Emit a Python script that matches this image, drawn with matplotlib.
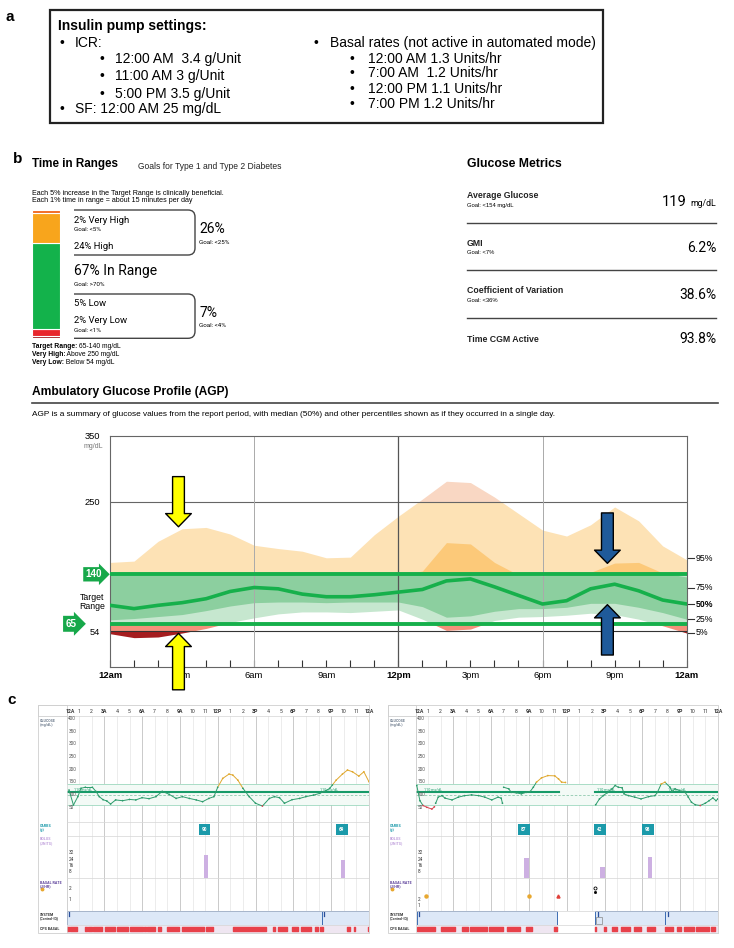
import matplotlib
matplotlib.use("Agg")
import matplotlib.pyplot as plt
import numpy as np
from matplotlib import font_manager
from matplotlib.patches import Rectangle, PathPatch
from matplotlib.path import Path
from matplotlib.collections import LineCollection

W, H = 734, 948
installed = {f.name for f in font_manager.fontManager.ttflist}
if "Liberation Sans Narrow" in installed:
    NARROW, NS = "Liberation Sans Narrow", 1.0
else:
    NARROW, NS = "Liberation Sans", 0.84
ARIAL = "Liberation Sans"
plt.rcParams["font.family"] = ["Roboto", "DejaVu Sans"]

# ---------------- panel a: pump settings
icr_lines = ["12:00 AM  3.4 g/Unit", "11:00 AM 3 g/Unit", "5:00 PM 3.5 g/Unit"]
sf_line = "SF: 12:00 AM 25 mg/dL"
basal_lines = ["12:00 AM 1.3 Units/hr", "7:00 AM  1.2 Units/hr",
               "12:00 PM 1.1 Units/hr", "7:00 PM 1.2 Units/hr"]

# ---------------- panel b: time in ranges (bottom to top)
tir_names = ["Very Low", "Low", "In Range", "High", "Very High"]
tir_pct = [2, 5, 67, 24, 2]
tir_colors = ["#9e1b20", "#e8262c", "#13b24b", "#f8a51c", "#f26a21"]

metric_names = ["Average Glucose", "GMI", "Coefficient of Variation", "Time CGM Active"]
metric_goals = ["Goal: <154 mg/dL", "Goal: <7%", "Goal: <36%", ""]
metric_values = ["119", "6.2%", "38.6%", "93.8%"]

# ---------------- AGP percentiles (hourly, mg/dL)
agp_hours = np.arange(25)
p95 = [158, 160, 190, 209, 211, 201, 184, 179, 175, 165, 166, 200, 228,
       254, 281, 279, 257, 232, 207, 198, 215, 242, 221, 183, 162]
p75 = [139, 139, 139, 139, 140, 143, 143, 140, 139, 139, 139, 139, 139,
       145, 188, 186, 158, 139, 138, 139, 143, 157, 158, 142, 136]
p50 = [93, 88, 93, 97, 103, 114, 120, 118, 110, 106, 106, 109, 113,
       117, 130, 133, 121, 108, 95, 100, 118, 125, 115, 101, 95]
p25 = [71, 73, 76, 79, 85, 92, 97, 98, 98, 97, 98, 98, 98,
       91, 75, 77, 84, 88, 88, 90, 96, 96, 90, 82, 72]
p5 = [50, 44, 45, 51, 58, 67, 74, 80, 83, 83, 82, 84, 86,
      72, 55, 57, 70, 75, 76, 78, 81, 79, 72, 62, 51]
pct_labels = ["95%", "75%", "50%", "25%", "5%"]
pct_label_vals = [164, 120, 94.5, 72, 51.5]
agp_xlabels = ["12am", "3am", "6am", "9am", "12pm", "3pm", "6pm", "9pm", "12am"]

# ---------------- panel c: two daily CGM views
hour_labels = ["12A", "1", "2", "3A", "4", "5", "6A", "7", "8", "9A", "10", "11", "12P",
               "1", "2", "3P", "4", "5", "6P", "7", "8", "9P", "10", "11", "12A"]

left_hours = [0.2, 0.55, 0.9, 1.15, 1.5, 2.05, 2.35, 2.6, 2.9, 3.2, 3.5, 3.9, 4.45, 5.0,
              5.5, 6.0, 6.55, 7.1, 7.6, 8.15, 8.7, 9.2, 9.75, 10.3, 10.8, 11.3, 11.7,
              12.0, 12.4, 12.9, 13.2, 13.6, 14.0, 14.5, 15.0, 15.55, 16.1, 16.5, 16.9,
              17.3, 17.9, 18.5, 19.0, 19.6, 20.1, 20.6, 20.9, 21.1, 21.4, 21.9, 22.3,
              22.7, 23.2, 23.6, 24.0]
left_gluc = [118, 59, 92, 125, 129, 129, 112, 92, 80, 75, 63, 79, 76, 81,
             79, 88, 84, 92, 113, 101, 85, 92, 85, 79, 72, 85, 92,
             129, 164, 181, 177, 157, 125, 92, 66, 55, 85, 92, 88,
             66, 80, 85, 92, 98, 105, 116, 125, 138, 157, 181, 197,
             190, 173, 190, 151]
right_hours = [0.1, 0.35, 0.6, 0.9, 1.3, 1.5, np.nan, 1.6, 1.8, 2.1, 2.35, 2.9, 3.4, 3.9,
               4.45, 5.0, 5.5, 6.05, 6.55, 6.8, 6.9, np.nan, 7.0, 7.4, 7.6, 8.0, 8.4, 8.8,
               9.1, 9.35, 9.6, 10.0, 10.5, 11.05, 11.35, 11.6, 11.9, np.nan, 14.3, 14.6,
               14.9, 15.2, 15.6, 15.85, 16.1, 16.4, 16.55, 16.9, 17.4, 17.9, 18.5, 19.0,
               19.2, 19.5, 19.8, 20.2, 20.35, 20.6, 21.1, 21.4, 21.65, 21.9, 22.2, 22.6,
               23.0, 23.3, 23.6, 23.85, 24.0]
right_gluc = [136, 76, 57, 50, 43, 52, np.nan, 66, 90, 96, 86, 79, 90, 96,
              99, 96, 90, 79, 90, 86, 66, np.nan, 129, 123, 109, 107, 103, 109,
              112, 129, 149, 166, 175, 174, 162, 149, 148, np.nan, 60, 83,
              96, 107, 123, 136, 129, 127, 103, 96, 90, 83, 92, 96,
              109, 142, 149, 129, 112, 123, 113, 109, 90, 70, 60, 57,
              66, 76, 87, 76, 83]

left_carb_h, left_carb_g = [10.94, 21.86], [90, 69]
right_carb_h, right_carb_g = [8.6, 14.64, 18.45], [87, 42, 98]
left_bolus_h, left_bolus_u = [11.07, 21.95], [30, 23]
right_bolus_h, right_bolus_u = [8.8, 14.83, 18.6], [26, 14, 27]

left_target_spans = [(0.0, 24.0)]
right_target_spans = [(0.1, 11.35), (14.25, 24.0)]
left_target_label_h = [0.6, 20.1]
right_target_label_h = [0.7, 14.4, 20.0]

left_sys_spans = [(0.0, 20.25), (20.25, 24.0)]
right_sys_spans = [(0.1, 11.2), (14.25, 19.8), (19.8, 24.0)]

left_cps_start = [0.01, 0.28, 1.47, 1.73, 2.13, 3.05, 3.98, 5.04, 6.18, 6.41, 7.24, 7.95,
                  9.14, 11.07, 13.24, 16.42, 16.76, 17.87, 18.58, 19.72, 20.12, 22.28,
                  22.81, 23.9]
left_cps_end = [0.23, 0.81, 1.66, 2.0, 2.79, 3.85, 4.9, 6.1, 6.31, 7.02, 7.47, 8.95,
                10.9, 11.6, 15.83, 16.55, 17.53, 18.4, 19.38, 19.99, 20.38, 22.5,
                22.89, 24.0]
right_cps_start = [0.09, 2.0, 3.66, 4.33, 5.86, 7.29, 8.77, 10.99, 14.25, 14.99, 15.62,
                   16.28, 17.34, 18.35, 19.8, 20.78, 21.31, 22.24, 23.48]
right_cps_end = [1.55, 3.13, 4.19, 5.65, 6.92, 8.29, 9.22, 11.2, 14.33, 15.1, 16.02,
                 17.02, 17.9, 19.0, 20.46, 21.05, 22.1, 23.27, 23.77]

right_basal_marks_h = [0.81, 8.98, 11.34]
right_basal_marks_y = [2.7, 2.7, 2.7]
right_basal_marks = ["o", "o", "^"]
right_basal_mark_colors = ["#e8a830", "#e8a830", "#e0403a"]

fig = plt.figure(figsize=(7.34, 9.48), dpi=100)
ax0 = fig.add_axes([0, 0, 1, 1])
ax0.set_xlim(0, W)
ax0.set_ylim(H, 0)
ax0.axis("off")


def px_axes(x0, y0, x1, y1):
    return fig.add_axes([x0 / W, 1 - y1 / H, (x1 - x0) / W, (y1 - y0) / H])


# ================= panel a
ax0.text(5, 17, "a", fontsize=11, fontweight="bold", family=ARIAL, va="center")
ax0.add_patch(Rectangle((50, 10), 553, 113, fill=False, ec="#222", lw=1.6))
ax0.text(58.5, 26, "Insulin pump settings:", fontsize=10, fontweight="bold",
         family=ARIAL, va="center")
ax0.text(60, 43.3, "•", fontsize=10, family=ARIAL, va="center")
ax0.text(75, 43.3, "ICR:", fontsize=10, family=ARIAL, va="center")
for y, line in zip([59.3, 76, 94], icr_lines):
    ax0.text(99, y, "•", fontsize=10, family=ARIAL, va="center")
    ax0.text(115, y, line, fontsize=10, family=ARIAL, va="center")
ax0.text(60, 109, "•", fontsize=10, family=ARIAL, va="center")
ax0.text(75, 109, sf_line, fontsize=10, family=ARIAL, va="center")
ax0.text(313.6, 43.3, "•", fontsize=10, family=ARIAL, va="center")
ax0.text(330, 43.3, "Basal rates (not active in automated mode)", fontsize=10,
         family=ARIAL, va="center")
for y, line in zip([59.3, 72.7, 88.7, 104.3], basal_lines):
    ax0.text(350, y, "•", fontsize=10, family=ARIAL, va="center")
    ax0.text(368.5, y, line, fontsize=10, family=ARIAL, va="center")

# ================= panel b
ax0.text(13, 159.3, "b", fontsize=11, fontweight="bold", family=ARIAL, va="center")
ax0.text(32, 164.3, "Time in Ranges", fontsize=10 * NS, fontweight="bold",
         family=NARROW, va="center")
ax0.text(137.7, 166, "Goals for Type 1 and Type 2 Diabetes", fontsize=7.3 * NS,
         family=NARROW, va="center", color="#222")
ax0.text(31.7, 193.3, "Each 5% increase in the Target Range is clinically beneficial.",
         fontsize=6.1 * NS, family=NARROW, va="center")
ax0.text(31.7, 200, "Each 1% time in range = about 15 minutes per day",
         fontsize=6.1 * NS, family=NARROW, va="center")

axb = px_axes(31.7, 210, 60, 338.3)
bottom = 0
for pct, col in zip(tir_pct, tir_colors):
    axb.bar(0, pct, bottom=bottom, width=1, color=col, edgecolor="white", lw=0.8)
    bottom += pct
axb.set_xlim(-0.5, 0.5)
axb.set_ylim(0, 100)
axb.axis("off")


def bracket(y0, y1, x0=74, x1=195, r=7):
    verts = [(x0, y0), (x1 - r, y0), (x1, y0), (x1, y0 + r), (x1, y1 - r),
             (x1, y1), (x1 - r, y1), (x0, y1)]
    codes = [Path.MOVETO, Path.LINETO, Path.CURVE3, Path.CURVE3, Path.LINETO,
             Path.CURVE3, Path.CURVE3, Path.LINETO]
    ax0.add_patch(PathPatch(Path(verts, codes), fill=False, ec="#444", lw=1))


bracket(210, 255)
bracket(294, 338.3)

ax0.text(74, 220, f"{tir_pct[4]}% {tir_names[4]}", fontsize=6.8, va="center")
ax0.text(74, 229.3, "Goal: <5%", fontsize=4.5, va="center")
ax0.text(74, 246, f"{tir_pct[3]}% {tir_names[3]}", fontsize=6.8, va="center")
ax0.text(74, 270.7, f"{tir_pct[2]}% {tir_names[2]}", fontsize=10, va="center")
ax0.text(74, 284, "Goal: >70%", fontsize=4.5, va="center")
ax0.text(74, 303.3, f"{tir_pct[1]}% {tir_names[1]}", fontsize=6.8, va="center")
ax0.text(74, 320.7, f"{tir_pct[0]}% {tir_names[0]}", fontsize=6.8, va="center")
ax0.text(74, 330.7, "Goal: <1%", fontsize=4.5, va="center")
ax0.text(199.3, 229.3, f"{tir_pct[3] + tir_pct[4]}%", fontsize=10, va="center")
ax0.text(199.3, 242.3, "Goal: <25%", fontsize=4.5, va="center")
ax0.text(199.3, 312.7, f"{tir_pct[0] + tir_pct[1]}%", fontsize=10, va="center")
ax0.text(199.3, 325.3, "Goal: <4%", fontsize=4.5, va="center")

for y, bold, rest in zip([346, 354.3, 362.3],
                         ["Target Range:", "Very High:", "Very Low:"],
                         [" 65-140 mg/dL", " Above 250 mg/dL", " Below 54 mg/dL"]):
    t = ax0.text(31.5, y, bold, fontsize=5.8 * NS, fontweight="bold", family=NARROW,
                 va="center")
    ax0.annotate(rest, xy=(1, 0.5), xycoords=t, va="center", fontsize=5.8 * NS,
                 family=NARROW)

ax0.text(466.7, 164.3, "Glucose Metrics", fontsize=10.5 * NS, fontweight="bold",
         family=NARROW, va="center")
for name, goal, val, yn, yv in zip(metric_names, metric_goals, metric_values,
                                   [195.7, 243.3, 290.7, 339], [201.7, 248.3, 295, 339]):
    ax0.text(466.7, yn, name, fontsize=7.5 * NS, fontweight="bold", family=NARROW,
             va="center", color="#222")
    if goal:
        ax0.text(466.7, yn + 9.6, goal, fontsize=5 * NS, family=NARROW, va="center")
    if name == "Average Glucose":
        ax0.text(716, yv + 1.5, "mg/dL", fontsize=6.3, ha="right", va="center")
        ax0.text(687, yv, val, fontsize=10.5, ha="right", va="center")
    else:
        ax0.text(716, yv, val, fontsize=10, ha="right", va="center")
for y in [223.3, 270, 317.7]:
    ax0.plot([466.7, 716], [y, y], color="#444", lw=1)

ax0.text(31.5, 392.3, "Ambulatory Glucose Profile (AGP)", fontsize=10.3 * NS,
         fontweight="bold", family=NARROW, va="center")
ax0.plot([31.5, 718], [402.7, 402.7], color="#444", lw=1.2)
ax0.text(31.5, 415, "AGP is a summary of glucose values from the report period, with "
         "median (50%) and other percentiles shown as if they occurred in a single day.",
         fontsize=7.1 * NS, family=NARROW, va="center")

# ---------------- AGP chart
ax = px_axes(110, 435.7, 686.7, 666.7)
ax.set_xlim(0, 24)
ax.set_ylim(0, 350)
zones95 = [(250, 400, "#f9d7c3"), (140, 250, "#fde2b5"), (65, 140, "#c6e7cf"),
           (54, 65, "#f4917a"), (-50, 54, "#a51d1f")]
zones75 = [(140, 400, "#fcc979"), (65, 140, "#8ccf9f")]
for lo_c, hi_c, zones in [(p5, p95, zones95), (p25, p75, zones75)]:
    for lo, hi, col in zones:
        poly = ax.fill_between(agp_hours, lo_c, hi_c, color=col, lw=0, zorder=1)
        poly.set_clip_path(Rectangle((0, lo), 24, hi - lo, transform=ax.transData))
ax.axhline(250, color="#666", lw=0.8, zorder=2)
ax.axhline(54, color="#333", lw=0.8, zorder=2)
for h in (6, 18):
    ax.axvline(h, color="#aaa", lw=0.7, zorder=2)
ax.axvline(12, color="#555", lw=0.9, zorder=2)
ax.axhline(140, color="#16b04b", lw=2.8, zorder=4)
ax.axhline(65, color="#16b04b", lw=2.8, zorder=4)
ax.plot(agp_hours, p50, color="#16b04b", lw=2.6, zorder=4)
for sp in ax.spines.values():
    sp.set_color("#666")
    sp.set_linewidth(0.8)
ax.set_xticks(range(0, 25, 3))
ax.set_xticks(range(25), minor=True)
ax.set_xticklabels(agp_xlabels, family=NARROW, fontsize=8 * NS)
for i, lab in enumerate(ax.get_xticklabels()):
    if i in (0, 4, 8):
        lab.set_fontweight("bold")
ax.tick_params(axis="x", which="both", direction="in", length=5, width=0.8,
               color="#333", pad=3)
ax.set_yticks([54, 250, 350])
ax.set_yticklabels(["54", "250", "350"], family=NARROW, fontsize=8 * NS)
ax.tick_params(axis="y", length=0, pad=7)
ax.text(-0.29, 333, "mg/dL", fontsize=6 * NS, family=NARROW, color="#777", ha="right",
        va="center")
ax.text(-0.76, 98.5, "Target\nRange", fontsize=7.5 * NS, family=NARROW, ha="center",
        va="center", linespacing=1.0)
ax.text(-0.68, 140, "140", fontsize=8.5 * NS, family=NARROW, fontweight="bold",
        color="white", ha="center", va="center", clip_on=False,
        bbox=dict(boxstyle="rarrow,pad=0.22", fc="#17a84a", ec="none"))
ax.text(-1.6, 65, "65", fontsize=8.5 * NS, family=NARROW, fontweight="bold",
        color="white", ha="center", va="center", clip_on=False,
        bbox=dict(boxstyle="rarrow,pad=0.3", fc="#17a84a", ec="none"))
for v, lab in zip(pct_label_vals, pct_labels):
    ax.plot([24, 24.3], [v, v], color="#333", lw=0.8, clip_on=False)
    ax.text(24.38, v, lab, fontsize=7.5 * NS, family=NARROW, va="center",
            fontweight="bold" if lab == "50%" else "normal")

arrow_specs = [(2.85, 288, 212, "#ffff00"), (2.85, -35, 50.5, "#ffff00"),
               (20.7, 233, 156.6, "#1f5a9a"), (20.7, 17.7, 94, "#1f5a9a")]
for h, y_tail, y_tip, col in arrow_specs:
    ax.annotate("", xy=(h, y_tip), xytext=(h, y_tail), annotation_clip=False, zorder=6,
                arrowprops=dict(arrowstyle="simple,head_length=0.95,head_width=1.85,"
                                "tail_width=0.85", mutation_scale=10, fc=col,
                                ec="black", lw=1.0, shrinkA=0, shrinkB=0))

# ================= panel c
ax0.text(7, 700, "c", fontsize=11, fontweight="bold", family=ARIAL, va="center")

GREEN, YELLOW, RED = "#2c9c6c", "#e0a82e", "#d64550"


def gcolor(v):
    if v > 140:
        return YELLOW
    if v < 58:
        return RED
    return GREEN


def day_chart(fx0, px0, hours, gluc, carb_h, carb_g, bol_h, bol_u, target_spans,
              target_lab_h, sys_spans, cps_s, cps_e, basal_top, basal_tick_vals,
              marks=None):
    px1 = px0 + 12.6 * 24
    ax0.add_patch(Rectangle((fx0, 705), px1 - fx0, 228, fill=False, ec="#cfcfcf", lw=0.6))
    ax0.add_patch(Rectangle((fx0, 705), px0 - fx0, 11, fill=False, ec="#cfcfcf", lw=0.6))
    hdr = [(719, "GLUCOSE\n(mg/dL)", "#6d7b8c"), (824, "CARBS\n(g)", "#1b9aaa"),
           (837.5, "BOLUS\n(UNITS)", "#c0a0dc"), (880.5, "BASAL RATE\n(U/HR)", "#5b3f9a"),
           (912.5, "SYSTEM\n(Control-IQ)", "#333333"), (926.5, "CPS BASAL", "#333333")]
    for y, txt, col in hdr:
        ax0.text(fx0 + 2, y, txt, fontsize=2.6, fontweight="bold", color=col, va="top",
                 linespacing=1.0)
    ax0.plot(fx0 + 3.5, 889, "o", ms=1.8, color="#e8a830")

    g = px_axes(px0, 716, px1, 822)
    c = px_axes(px0, 822, px1, 836)
    b = px_axes(px0, 836, px1, 878.3)
    r = px_axes(px0, 878.3, px1, 910.5)
    s = px_axes(px0, 910.5, px1, 925)
    p = px_axes(px0, 925, px1, 933)
    for a in (g, c, b, r, s, p):
        a.set_xlim(0, 24)
        a.set_xticks([])
        a.set_yticks([])
        for sp in a.spines.values():
            sp.set_color("#d5d5d5")
            sp.set_linewidth(0.5)
    for a in (g, c, b, r):
        for h in range(25):
            a.axvline(h, color="#b5b5b5" if h % 3 == 0 else "#e4e4e4", lw=0.5, zorder=0)

    g.set_ylim(-8, 410)
    for h, lab in zip(range(25), hour_labels):
        g.text(h + (0.3 if h == 0 else 0), 1.045, lab, transform=g.get_xaxis_transform(),
               ha="center", va="center", fontsize=3.7, color="#333",
               fontweight="bold" if h % 3 == 0 else "normal")
    for v in range(50, 401, 50):
        g.text(0.15, v, str(v), fontsize=3.4, va="center", color="#555")
    g.axhspan(60, 140, color="#f3faf6", lw=0, zorder=0)
    g.axhline(140, color="#9ed8bf", lw=0.6)
    g.axhline(60, color="#9ed8bf", lw=0.6)
    g.axhline(100, color="#8fc8ae", lw=0.6, ls=(0, (3, 2)))
    for a0, a1 in target_spans:
        g.plot([a0, a1], [110, 110], color="#179a68", lw=1.5)
    for h in target_lab_h:
        g.text(h, 119, "110 mg/dL", fontsize=2.6, color="#179a68", va="center")
    hh = np.asarray(hours, float)
    vv = np.asarray(gluc, float)
    pts = np.column_stack([hh, vv])
    segs = np.stack([pts[:-1], pts[1:]], axis=1)
    seg_cols = [gcolor(np.nanmean([v0, v1])) if not (np.isnan(v0) or np.isnan(v1))
                else GREEN for v0, v1 in zip(vv[:-1], vv[1:])]
    g.add_collection(LineCollection(segs, colors=seg_cols, lw=0.7, zorder=3))
    ok = ~np.isnan(vv)
    g.scatter(hh[ok], vv[ok], s=1.5, c=[gcolor(v) for v in vv[ok]], lw=0, zorder=4)

    c.set_ylim(0, 1)
    for h, val in zip(carb_h, carb_g):
        c.text(h, 0.45, str(val), ha="center", va="center", fontsize=3.3, color="white",
               fontweight="bold",
               bbox=dict(boxstyle="square,pad=0.65", fc="#1b9aaa", ec="none"))

    b.set_ylim(0, 53.5)
    b.bar(bol_h, bol_u, width=0.36, color="#cdb0e2", zorder=2)
    for u in (32, 24, 16, 8):
        b.text(0.2, u, str(u), fontsize=3.4, va="center", color="#333")

    r.set_ylim(0, basal_top)
    for u in basal_tick_vals:
        r.text(0.2, u, str(u), fontsize=3.4, va="center", color="#333")
    if marks is not None:
        for h, y, m, col in zip(*marks):
            r.plot(h, y, m, ms=2.2, color=col, mec=col)

    s.set_ylim(0, 1)
    for a0, a1 in sys_spans:
        s.add_patch(Rectangle((a0, 0.03), a1 - a0, 0.94, fc="#dde8f7", ec="#3d6db3", lw=0.7))
        s.plot([a0 + 0.2, a0 + 0.2], [0.62, 0.88], color="#2a4f9a", lw=0.9)

    p.set_ylim(0, 1)
    p.broken_barh([(a0, a1 - a0) for a0, a1 in sys_spans], (0.05, 0.9), color="#efe6f1")
    p.broken_barh([(a0, a1 - a0) for a0, a1 in zip(cps_s, cps_e)], (0.28, 0.44),
                  color="#e8414a")
    return s, r


day_chart(38, 66.5, left_hours, left_gluc, left_carb_h, left_carb_g, left_bolus_h,
          left_bolus_u, left_target_spans, left_target_label_h, left_sys_spans,
          left_cps_start, left_cps_end, 2.97, [2, 1])
s_r, r_r = day_chart(388, 415.5, right_hours, right_gluc, right_carb_h, right_carb_g,
                     right_bolus_h, right_bolus_u, right_target_spans,
                     right_target_label_h, right_sys_spans, right_cps_start,
                     right_cps_end, 5.96, [2, 1],
                     (right_basal_marks_h, right_basal_marks_y, right_basal_marks,
                      right_basal_mark_colors))
s_r.add_patch(Rectangle((14.35, 0.08), 0.45, 0.5, fill=False, ec="#888", lw=0.5))
r_r.plot(14.25, 4.1, "o", ms=2.2, mfc="none", mec="black", mew=0.6)
r_r.plot(14.25, 3.4, "s", ms=1.0, color="black")

fig.savefig("out.png", dpi=100)
